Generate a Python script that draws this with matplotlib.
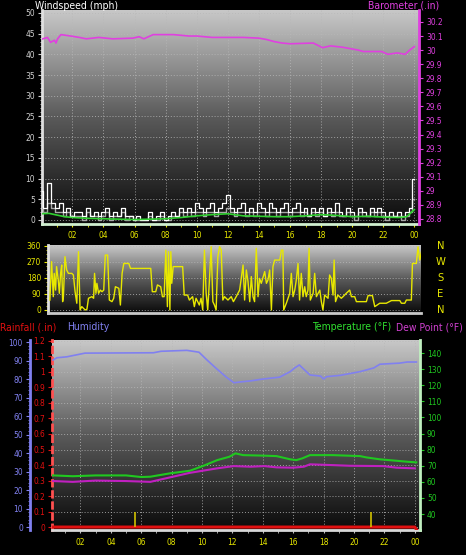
import numpy as np
import matplotlib.pyplot as plt
from matplotlib.colors import LinearSegmentedColormap
from matplotlib.ticker import MultipleLocator, FuncFormatter

plt.rcParams['font.family'] = ['DejaVu Sans']
plt.rcParams['font.stretch'] = 'condensed'

# ---------------- data ----------------
baro_h = [0.1, 0.4, 0.6, 0.85, 0.95, 1.05, 1.27, 1.9, 2.45, 2.9, 3.7, 4.6, 5.9, 6.3, 6.6, 7.2, 7.6,
          8.5, 9.0, 9.5, 10.0, 10.5, 11.0, 12.0, 13.0, 14.0, 14.5, 15.0, 15.5, 16.0, 16.6, 17.5, 18.1,
          18.6, 19.4, 19.9, 20.4, 20.7, 21.9, 22.3, 22.9, 23.4, 23.7, 24.0]
baro = [30.08, 30.09, 30.055, 30.07, 30.05, 30.08, 30.11, 30.10, 30.09, 30.08, 30.09, 30.08, 30.085,
        30.095, 30.08, 30.11, 30.11, 30.11, 30.105, 30.10, 30.10, 30.095, 30.09, 30.09, 30.09, 30.085,
        30.075, 30.06, 30.05, 30.045, 30.047, 30.05, 30.017, 30.03, 30.02, 30.01, 30.0, 29.99, 29.99,
        29.97, 29.98, 29.97, 30.0, 30.025]

wind_h = [i * 0.25 for i in range(97)]
gust = [7, 3, 9, 4, 3, 4, 2, 3, 1, 2, 2, 1, 3, 1, 2, 1, 2, 3, 1, 2, 1, 3, 1, 1,
        0, 1, 0, 0, 2, 0, 1, 2, 0, 1, 2, 1, 3, 2, 3, 2, 4, 3, 2, 3, 4, 2, 3, 4,
        6, 3, 2, 3, 4, 2, 3, 2, 4, 3, 2, 4, 3, 2, 3, 4, 2, 3, 4, 2, 3, 1, 3, 2,
        3, 1, 3, 2, 4, 2, 1, 3, 2, 1, 3, 2, 1, 3, 2, 3, 2, 1, 2, 1, 2, 1, 2, 3, 10]
speed = [3, 2, 4, 3, 2, 2, 1, 2, 1, 1, 1, 0, 2, 1, 1, 0, 1, 2, 0, 1, 1, 2, 0, 1,
         0, 0, 0, 0, 1, 0, 0, 1, 0, 0, 1, 1, 2, 1, 2, 1, 2, 2, 1, 2, 2, 1, 2, 2,
         3, 2, 1, 2, 2, 1, 2, 1, 2, 2, 1, 2, 2, 1, 2, 2, 1, 2, 2, 1, 2, 1, 2, 1,
         2, 1, 2, 1, 2, 1, 1, 2, 1, 0, 2, 1, 1, 2, 1, 2, 1, 0, 1, 1, 1, 0, 1, 2, 5]
avg_h = [0, 0.5, 1, 1.5, 2, 3, 4, 5, 6, 7, 8, 9, 10, 11, 12, 13, 14, 15, 16, 17, 18, 19, 20, 21,
         22, 23, 23.5, 24]
avg = [1.5, 1.6, 1.2, 0.8, 0.6, 0.4, 0.3, 0.2, 0.1, 0.2, 0.3, 0.6, 1.0, 1.3, 1.5, 1.0, 0.9, 0.8,
       0.8, 1.0, 1.3, 1.1, 0.8, 0.9, 0.7, 0.6, 0.8, 2.5]

dir_h = [0.56, 0.67, 0.78, 0.84, 0.93, 0.99, 1.10, 1.17, 1.25, 1.32, 1.38, 1.43, 1.53, 1.64, 1.75,
         1.97, 2.07, 2.18, 2.29, 2.40, 2.50, 2.61, 2.83, 2.94, 3.04, 3.26, 3.37, 3.43, 3.52, 3.58,
         3.69, 3.80, 3.91, 4.02, 4.12, 4.27, 4.38, 4.55, 4.66, 4.77, 4.99, 5.09, 5.20, 5.31, 5.63,
         5.74, 7.04, 7.14, 7.36, 7.47, 7.68, 7.79, 7.90, 8.01, 8.11, 8.18, 8.27, 8.33, 8.39, 8.48,
         8.55, 9.09, 9.19, 9.41, 9.52, 9.73, 9.84, 9.95, 10.16, 10.27, 10.38, 10.49, 10.60, 10.70,
         10.81, 10.92, 11.03, 11.13, 11.24, 11.35, 11.46, 11.57, 11.67, 11.78, 12.00, 12.21, 12.35,
         12.53, 12.75, 12.97, 13.07, 13.18, 13.29, 13.40, 13.50, 13.61, 13.71, 13.82, 13.93, 14.03,
         14.14, 14.36, 14.47, 14.57, 14.68, 14.79, 14.89, 15.00, 15.33, 15.43, 15.53, 15.58, 15.75,
         15.97, 16.07, 16.18, 16.29, 16.39, 16.50, 16.60, 16.71, 16.82, 16.93, 17.03, 17.14, 17.21,
         17.29, 17.47, 17.57, 17.68, 17.90, 18.00, 18.10, 18.21, 18.43, 18.53, 18.64, 18.75, 18.82,
         18.91, 19.06, 19.28, 19.39, 19.60, 19.82, 19.93, 20.14, 20.25, 20.89, 21.00, 21.28, 21.43,
         21.75, 22.17, 22.50, 23.04, 23.14, 23.36, 23.46, 23.78, 23.85, 24.10, 24.21, 24.32, 24.43]
wdir = [56, 272, 75, 206, 112, 244, 169, 94, 206, 253, 47, 75, 300, 225, 206,
        206, 197, 103, 38, 328, 0, 19, 0, 4, 66, 75, 66, 206, 94, 150,
        94, 112, 103, 112, 309, 309, 56, 47, 66, 131, 122, 28, 206, 262, 262,
        234, 234, 103, 103, 141, 131, 75, 75, 337, 19, 328, 0, 328, 150, 244,
        244, 244, 84, 84, 56, 75, 19, 66, 28, 66, 0, 337, 94, 0,
        169, 356, 47, 28, 0, 300, 356, 337, 56, 75, 56, 75, 47,
        75, 112, 253, 56, 225, 159, 47, 188, 75, 47, 347, 75, 178,
        150, 216, 150, 169, 225, 0, 244, 281, 281, 337, 337, 0, 38,
        94, 206, 75, 112, 169, 262, 56, 206, 75, 131, 75, 112, 347,
        56, 94, 206, 75, 112, 47, 0, 84, 66, 197, 178, 84, 281,
        47, 84, 66, 75, 94, 112, 75, 75, 47, 47, 81, 81, 19,
        38, 38, 53, 53, 38, 38, 56, 56, 262, 262, 356, 281, 328]

hum_h = [0.2, 0.45, 1.1, 2.3, 6.8, 7.3, 9.0, 9.8, 10.3, 10.9, 11.6, 12.1, 12.6, 13.2, 14.0, 15.1,
         15.8, 16.1, 16.4, 17.1, 17.8, 18.0, 18.2, 19.1, 20.4, 21.3, 21.7, 23.0, 23.5, 24.1]
hum = [90.3, 91.5, 92, 94, 94.2, 95, 95.5, 94.5, 90.5, 86, 81, 78, 78.5, 79, 80, 81,
       84, 86, 87.6, 82.2, 81.6, 80, 81.3, 82, 84, 86, 88, 88.6, 89.2, 89.2]

temp_h = [0.2, 1.5, 3.0, 5.0, 6.0, 6.6, 7.9, 9.2, 10.1, 11.0, 11.8, 12.2, 12.7, 14.0, 14.9, 15.8,
          16.2, 16.6, 17.1, 18.6, 20.4, 20.8, 21.7, 22.8, 23.5, 24.1]
temp = [64, 63.5, 64, 64, 63, 63.2, 65.3, 66.9, 70, 73.5, 75.6, 77.7, 76.6, 76.3, 76, 74,
        73.5, 74.6, 76.6, 76.6, 76, 75.2, 74, 73.1, 72.5, 72.1]
dew_h = [0.2, 1.5, 3.0, 5.0, 6.6, 7.9, 9.2, 11.0, 12.1, 13.2, 14.1, 14.9, 16.0, 16.7, 17.1, 18.6,
         19.7, 21.9, 22.8, 24.0]
dew = [60.5, 60, 60.8, 60.5, 60, 62.8, 65.6, 68.4, 69.8, 69.4, 69.8, 69, 68.8, 69.4, 70.9, 70.4,
       70, 69.8, 68.8, 68.4]

rain_h = [0.13, 24.0, 24.1]
rain = [0.0, 0.0, -0.015]
rate_h = [5.6, 21.1]
rate = [0.1, 0.1]

tick_h = list(range(2, 25, 2))
tick_lbl = ['02', '04', '06', '08', '10', '12', '14', '16', '18', '20', '22', '00']

# ---------------- styling ----------------
YEL = '#e8e800'
MAG = '#e040e0'
TS = 6
bgmap = LinearSegmentedColormap.from_list('bg', ['#0a0a0a', '#5a5a5a', '#c8c8c8'])
grad = np.linspace(0, 1, 256).reshape(-1, 1)


def add_bg(ax):
    ax.set_facecolor('black')
    ax.imshow(grad, extent=[0, 1, 0, 1], transform=ax.transAxes, aspect='auto',
              cmap=bgmap, origin='lower', zorder=0)
    ax.grid(True, which='major', color='#b8b8b8', linestyle=(0, (1, 2)), linewidth=0.7, alpha=0.8)


def num_fmt(v, pos):
    s = f'{v:.1f}'.rstrip('0').rstrip('.')
    return s


fig = plt.figure(figsize=(4.66, 5.55), dpi=100, facecolor='black')

# ---------------- top panel: wind speed + barometer ----------------
ax1 = fig.add_axes([42 / 466, 1 - 224 / 555, 377 / 466, 214 / 555])
add_bg(ax1)
ax1.plot(wind_h, speed, color='#a8a8a8', lw=1.0, drawstyle='steps-mid', zorder=3)
ax1.plot(wind_h, gust, color='white', lw=0.9, drawstyle='steps-mid', zorder=3)
ax1.plot(avg_h, avg, color='#30d030', lw=1.2, zorder=4)
ax1.set_xlim(0.05, 24.3)
ax1.set_ylim(-0.97, 50.72)
ax1.set_yticks(range(0, 51, 5))
ax1.yaxis.set_minor_locator(MultipleLocator(1))
ax1.set_xticks(tick_h)
ax1.set_xticklabels(tick_lbl)
ax1.xaxis.set_minor_locator(MultipleLocator(1))
ax1.tick_params(axis='y', which='both', colors='#d0d0d0', labelsize=TS, length=3, pad=2)
ax1.tick_params(axis='y', which='minor', length=1.5)
ax1.tick_params(axis='x', which='both', colors=YEL, labelsize=TS, length=2, pad=3)
ax1.spines['left'].set_color('#e0e0e0')
ax1.spines['left'].set_linewidth(2)
ax1.spines['bottom'].set_color('#d0f0d0')
ax1.spines['bottom'].set_linewidth(2)
ax1.spines['top'].set_visible(False)
ax1.spines['right'].set_visible(False)

ax1b = ax1.twinx()
ax1b.plot(baro_h, baro, color=MAG, lw=1.2, zorder=3)
ax1b.set_ylim(28.764, 30.285)
ax1b.set_yticks(np.round(np.arange(28.8, 30.21, 0.1), 1))
ax1b.yaxis.set_major_formatter(FuncFormatter(num_fmt))
ax1b.tick_params(axis='y', colors=MAG, labelsize=TS, length=3, pad=2)
ax1b.spines['right'].set_color(MAG)
ax1b.spines['right'].set_linewidth(2)
ax1b.spines['right'].set_linestyle((0, (1, 1)))
for s in ['left', 'top', 'bottom']:
    ax1b.spines[s].set_visible(False)

fig.text(35 / 466, 1 - 1 / 555, 'Windspeed (mph)', color='white', fontsize=7.5, va='top', ha='left')
fig.text(439 / 466, 1 - 1 / 555, 'Barometer (.in)', color=MAG, fontsize=7.5, va='top', ha='right')

# ---------------- middle panel: wind direction ----------------
ax2 = fig.add_axes([48 / 466, 1 - 313 / 555, 373 / 466, 68 / 555])
add_bg(ax2)
ax2.plot(dir_h, wdir, color=YEL, lw=1.0, zorder=3)
ax2.set_xlim(0.44, 24.4)
ax2.set_ylim(-16.9, 365.6)
ax2.set_yticks([0, 90, 180, 270, 360])
ax2.yaxis.set_minor_locator(MultipleLocator(22.5))
ax2.set_xticks(tick_h)
ax2.tick_params(axis='x', which='both', length=0, labelbottom=False)
ax2.tick_params(axis='y', which='both', colors=YEL, labelsize=TS, length=3, pad=2)
ax2.tick_params(axis='y', which='minor', length=1.5)
ax2.grid(False, axis='x')
ax2.spines['left'].set_color('#e0e0e0')
ax2.spines['left'].set_linewidth(2)
ax2.spines['bottom'].set_color('#c8c8c8')
ax2.spines['bottom'].set_linewidth(2)
ax2.spines['top'].set_visible(False)
ax2.spines['right'].set_visible(False)
for lbl, v in zip(['N', 'W', 'S', 'E', 'N'], [360, 270, 180, 90, 0]):
    ax2.text(1.052, v, lbl, color=YEL, fontsize=8, ha='center', va='center',
             transform=ax2.get_yaxis_transform())

# ---------------- bottom panel: rain, humidity, temperature ----------------
ax3 = fig.add_axes([52 / 466, 1 - 530 / 555, 368 / 466, 190 / 555])
add_bg(ax3)
ax3.plot(rain_h, rain, color='#e01010', lw=2.2, zorder=3)
ax3.vlines(rate_h, 0, rate, color='#d0c000', lw=1.2, zorder=3)
ax3.set_xlim(0.13, 24.34)
ax3.set_ylim(-0.019, 1.206)
ax3.set_yticks(np.round(np.arange(0, 1.21, 0.1), 1))
ax3.yaxis.set_major_formatter(FuncFormatter(num_fmt))
ax3.set_xticks(tick_h)
ax3.set_xticklabels(tick_lbl)
ax3.xaxis.set_minor_locator(MultipleLocator(1))
ax3.tick_params(axis='y', colors='#e01010', labelsize=TS, length=3, pad=2)
ax3.tick_params(axis='x', which='both', colors=YEL, labelsize=TS, length=2, pad=4)
ax3.tick_params(axis='x', which='both', color='#c0c0c0')
ax3.spines['left'].set_color('#ff5050')
ax3.spines['left'].set_linewidth(2)
ax3.spines['left'].set_linestyle((0, (2, 2)))
ax3.spines['bottom'].set_color('#d8d8d8')
ax3.spines['bottom'].set_linewidth(2)
ax3.spines['top'].set_visible(False)
ax3.spines['right'].set_visible(False)

ax3h = ax3.twinx()
ax3h.plot(hum_h, hum, color='#8080f0', lw=1.2, zorder=3)
ax3h.set_ylim(-1.6, 101.1)
ax3h.yaxis.set_ticks_position('left')
ax3h.yaxis.set_label_position('left')
ax3h.spines['left'].set_position(('outward', 16))
ax3h.spines['left'].set_visible(True)
ax3h.spines['left'].set_color('#8080f0')
ax3h.spines['left'].set_linewidth(2)
for s in ['right', 'top', 'bottom']:
    ax3h.spines[s].set_visible(False)
ax3h.set_yticks(range(0, 101, 10))
ax3h.yaxis.set_minor_locator(MultipleLocator(2))
ax3h.tick_params(axis='y', which='both', colors='#8080f0', labelsize=TS, length=3, pad=2)
ax3h.tick_params(axis='y', which='minor', length=1.5)

ax3t = ax3.twinx()
ax3t.plot(temp_h, temp, color='#20c820', lw=1.5, zorder=3)
ax3t.plot(dew_h, dew, color='#c020c0', lw=1.5, zorder=3)
ax3t.set_ylim(30.1, 148.1)
ax3t.set_yticks(range(40, 141, 10))
ax3t.tick_params(axis='y', colors='#20c820', labelsize=TS, length=3, pad=2)
ax3t.spines['right'].set_color('#c0f0c0')
ax3t.spines['right'].set_linewidth(2)
for s in ['left', 'top', 'bottom']:
    ax3t.spines[s].set_visible(False)

fig.text(0 / 466, 1 - 327 / 555, 'Rainfall (.in)', color='#e01010', fontsize=7.5, va='center', ha='left')
fig.text(67 / 466, 1 - 327 / 555, 'Humidity', color='#8080f0', fontsize=7.5, va='center', ha='left')
fig.text(391 / 466, 1 - 327 / 555, 'Temperature (°F)', color='#30e030', fontsize=7.5, va='center', ha='right')
fig.text(463 / 466, 1 - 327 / 555, 'Dew Point (°F)', color='#d040d0', fontsize=7.5, va='center', ha='right')

fig.savefig('out.png', dpi=100, facecolor='black')
